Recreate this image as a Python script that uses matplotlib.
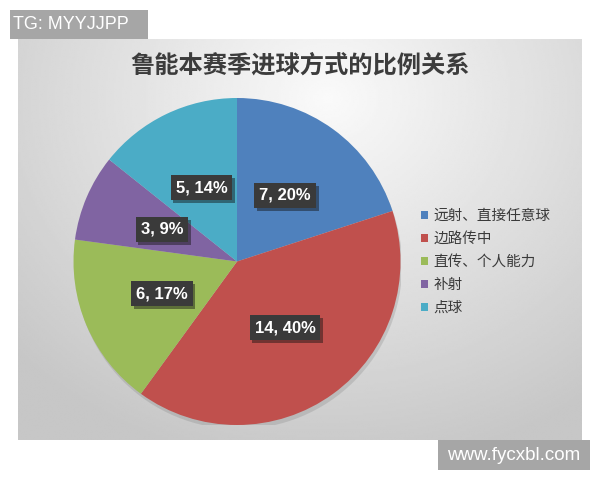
import numpy as np
import matplotlib
matplotlib.use("Agg")
import matplotlib.pyplot as plt
import matplotlib.patheffects as pe
from matplotlib.patches import Rectangle, Circle

plt.rcParams['font.family'] = ['Noto Sans CJK SC', 'DejaVu Sans']

# data
labels = ['远射、直接任意球', '边路传中', '直传、个人能力', '补射', '点球']
goals = [7, 14, 6, 3, 5]
colors = ['#4F81BD', '#C0504D', '#9BBB59', '#8064A2', '#4BACC6']
title = '鲁能本赛季进球方式的比例关系'
total = sum(goals)

fig = plt.figure(figsize=(6, 4.8), dpi=100)
fig.patch.set_facecolor('white')

# gray gradient panel like the excel chart area
bg = fig.add_axes([18 / 600, 1 - 440 / 480, 564 / 600, 401 / 480])
yy, xx = np.mgrid[0:1:200j, 0:1:280j]
r = np.sqrt(((xx - 0.55) * 1.1) ** 2 + ((yy - 0.15) * 0.9) ** 2)
shade = np.clip(0.98 - 0.24 * r, 0.78, 0.98)
bg.imshow(shade, cmap='gray', vmin=0, vmax=1, aspect='auto',
          extent=(0, 1, 1, 0), interpolation='bilinear')
bg.set_xlim(0, 1)
bg.set_ylim(1, 0)
bg.axis('off')

# pie
ax = fig.add_axes([(237 - 163.5) / 600, 1 - 425 / 480, 327 / 600, 327 / 480])
ax.add_patch(Circle((0.01, -0.025), 1.0, fc='#7a7a7a', alpha=0.25, zorder=0))
wedges, _, autotexts = ax.pie(
    goals, colors=colors, startangle=90, counterclock=False,
    autopct=lambda p: f'{round(p * total / 100)}, {p:.0f}%',
    pctdistance=0.5, radius=1.0,
    wedgeprops=dict(linewidth=0))
for w in wedges:
    w.set_zorder(2)
for t in autotexts:
    t.set_family(['Liberation Sans Narrow', 'Liberation Sans'])
    t.set_fontsize(12)
    t.set_fontweight('bold')
    t.set_color('white')
    t.set_zorder(5)
    t.set_bbox(dict(boxstyle='square,pad=0.3', fc='#3a3a3a', ec='none'))
    t.get_bbox_patch().set_path_effects(
        [pe.SimplePatchShadow(offset=(2, -2), alpha=0.45), pe.Normal()])
ax.set_xlim(-1, 1)
ax.set_ylim(-1, 1)
ax.set_aspect('equal')

fig.legend(wedges, labels, loc='center left',
           bbox_to_anchor=(408 / 600, 1 - 262 / 480), frameon=False,
           fontsize=10.5, handlelength=0.5, handleheight=0.5,
           handletextpad=0.35, labelspacing=0.62, labelcolor='#3a3a3a')

fig.text(0.5, 1 - 66 / 480, title, ha='center', va='center',
         fontsize=17.5, fontweight='semibold', color='#3c3c3c')

# watermarks
fig.add_artist(Rectangle((10 / 600, 1 - 39 / 480), 138 / 600, 29 / 480,
                         transform=fig.transFigure, fc='#a6a6a6', ec='none'))
fig.text(13 / 600, 1 - 24.5 / 480, 'TG: MYYJJPP', ha='left', va='center',
         fontsize=13, color='white', family='Liberation Sans')
fig.add_artist(Rectangle((438 / 600, 1 - 470 / 480), 152 / 600, 30 / 480,
                         transform=fig.transFigure, fc='#a6a6a6', ec='none'))
fig.text(514 / 600, 1 - 455 / 480, 'www.fycxbl.com', ha='center', va='center',
         fontsize=13.5, color='white', family='Liberation Sans')

fig.savefig('out.png', dpi=100, facecolor='white')
